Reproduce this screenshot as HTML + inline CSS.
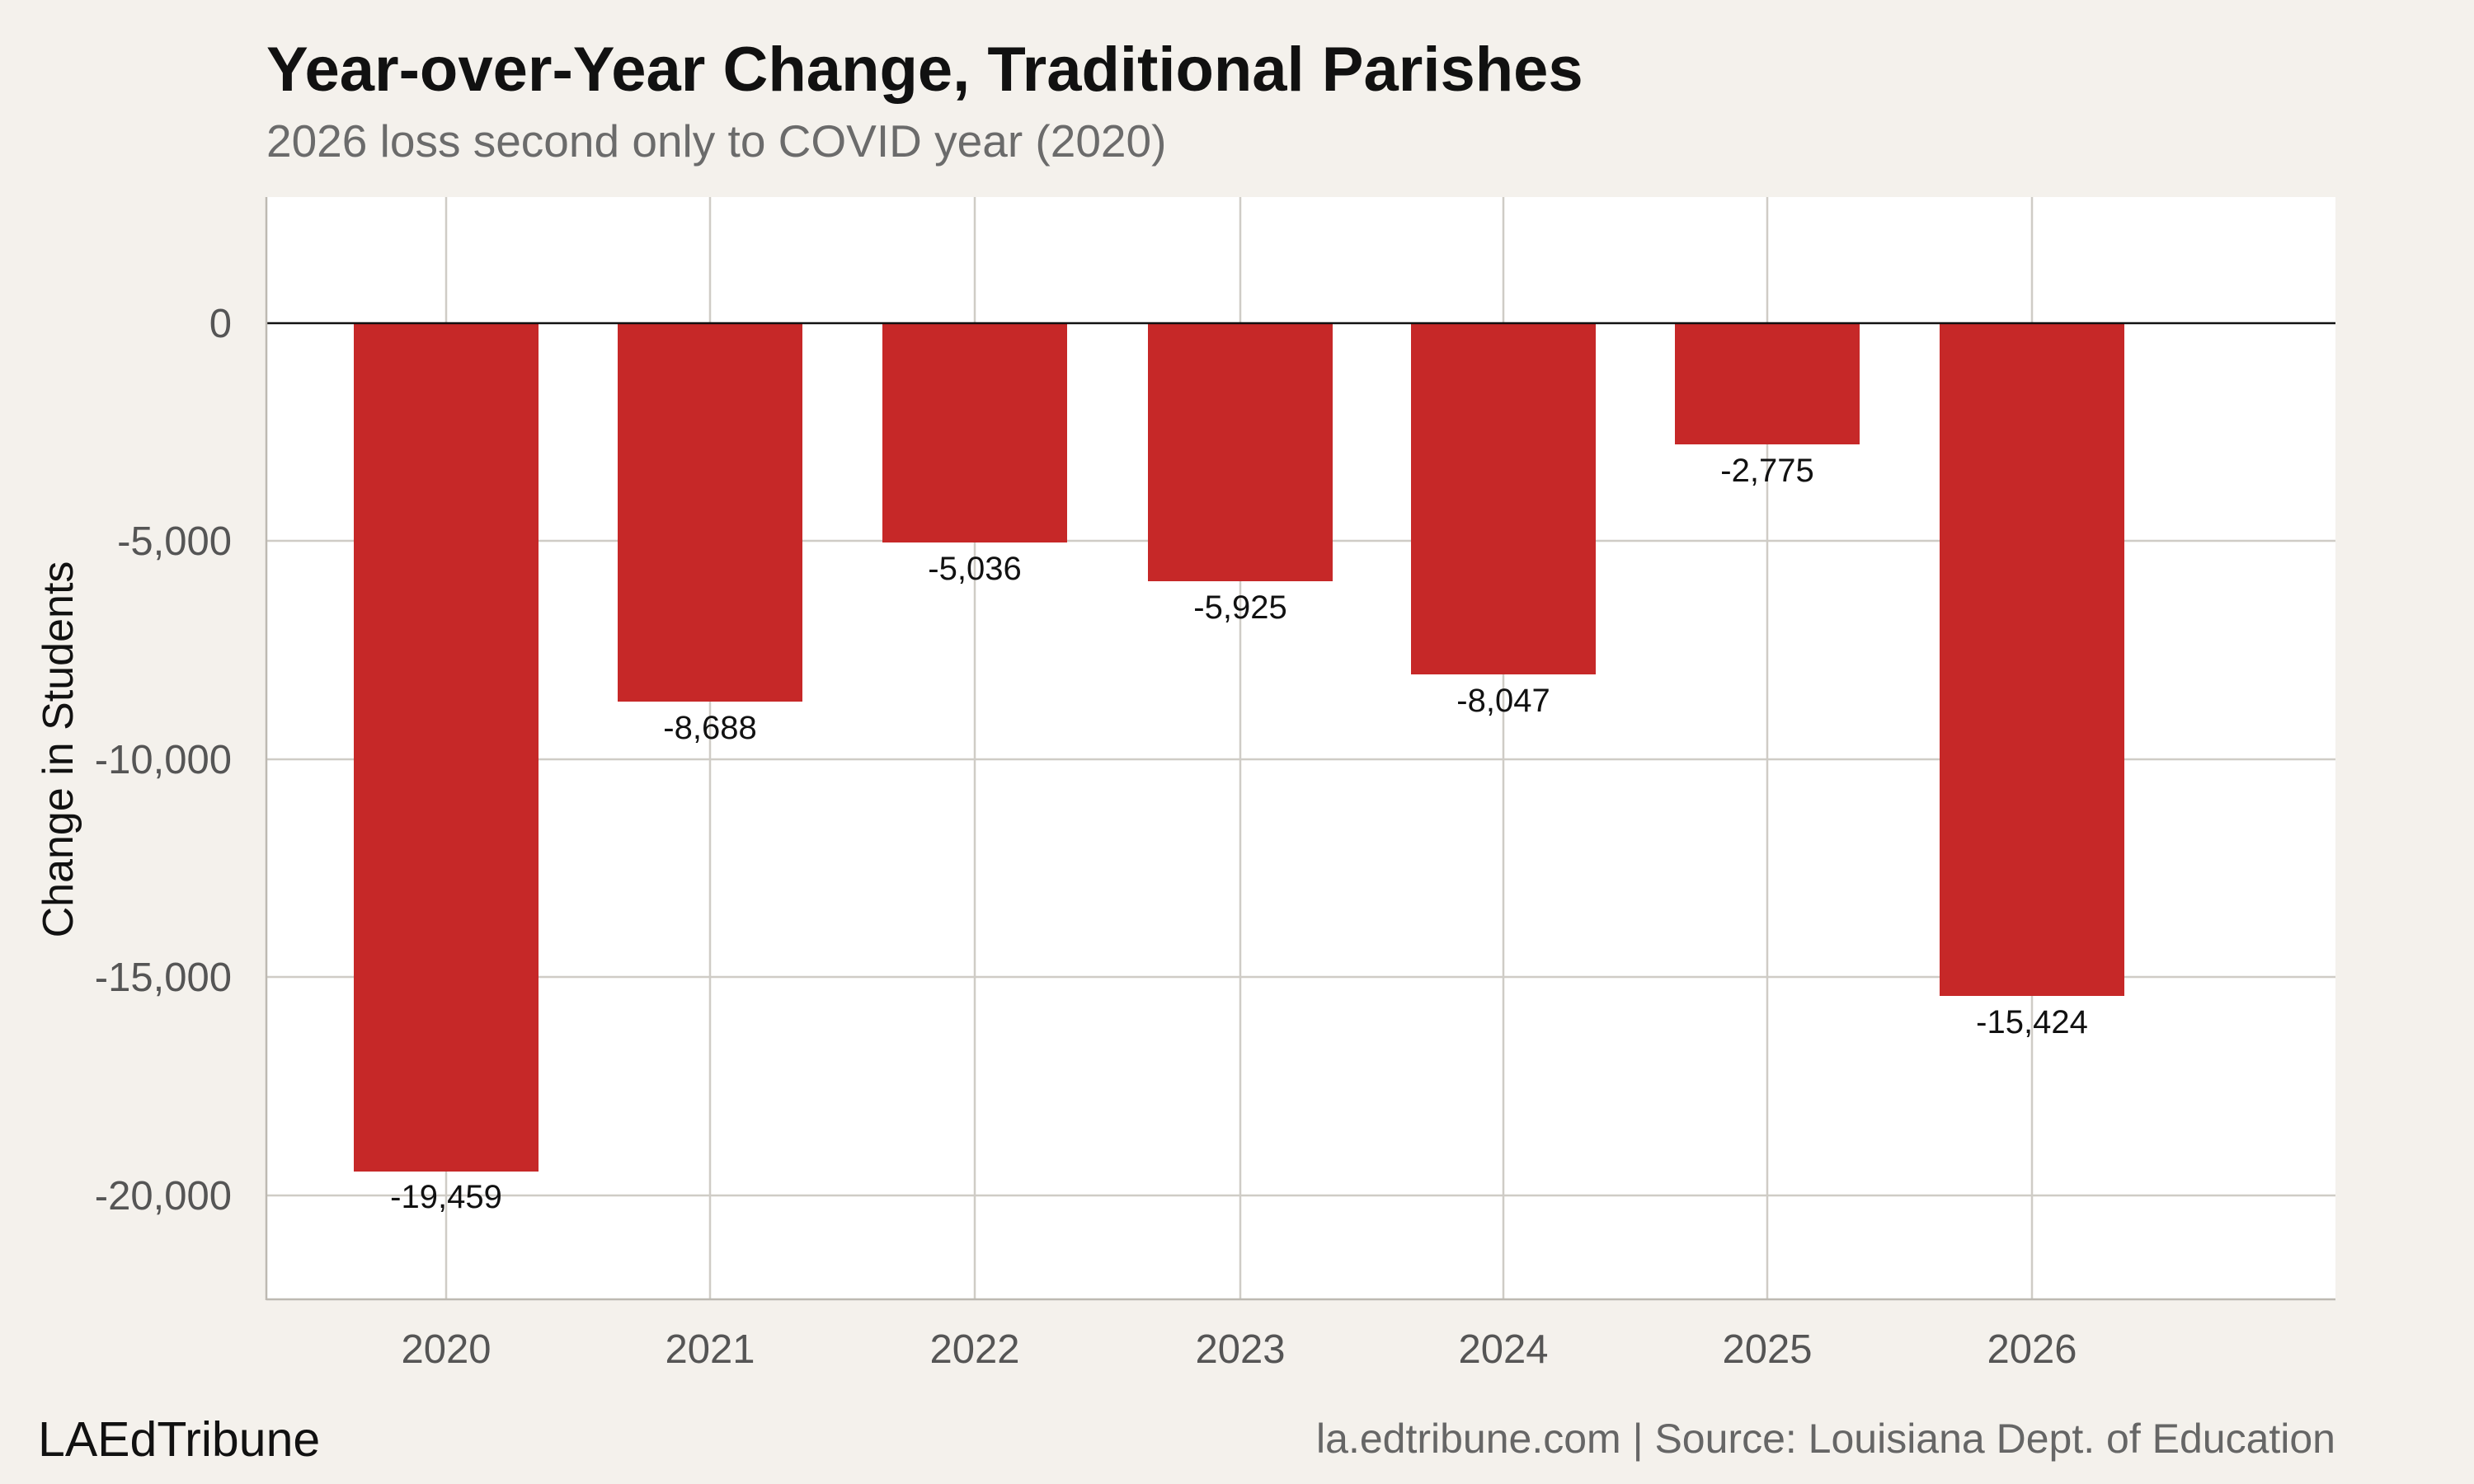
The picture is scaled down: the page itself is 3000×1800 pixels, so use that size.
<!DOCTYPE html>
<html><head><meta charset="utf-8"><style>
html,body{margin:0;padding:0;background:#f4f1ec;}
svg{display:block;font-family:"Liberation Sans",sans-serif;}
</style></head><body>
<svg width="3000" height="1800" viewBox="0 0 3000 1800" xmlns="http://www.w3.org/2000/svg">
<rect width="3000" height="1800" fill="#f4f1ec"/>
<text x="323" y="110" font-size="76" font-weight="bold" fill="#111">Year-over-Year Change, Traditional Parishes</text>
<text x="323" y="190" font-size="55" fill="#6b6b6b">2026 loss second only to COVID year (2020)</text>
<rect x="323" y="239" width="2509" height="1336" fill="#ffffff"/>
<g stroke="#cfccc6" stroke-width="2.5">
<line x1="323" x2="2832" y1="656" y2="656"/>
<line x1="323" x2="2832" y1="921" y2="921"/>
<line x1="323" x2="2832" y1="1185" y2="1185"/>
<line x1="323" x2="2832" y1="1450" y2="1450"/>
<line x1="541" x2="541" y1="239" y2="1575"/>
<line x1="861" x2="861" y1="239" y2="1575"/>
<line x1="1182" x2="1182" y1="239" y2="1575"/>
<line x1="1504" x2="1504" y1="239" y2="1575"/>
<line x1="1823" x2="1823" y1="239" y2="1575"/>
<line x1="2143" x2="2143" y1="239" y2="1575"/>
<line x1="2464" x2="2464" y1="239" y2="1575"/>
</g>
<g fill="#c62828">
<rect x="429" y="392" width="224" height="1029"/>
<rect x="749" y="392" width="224" height="459"/>
<rect x="1070" y="392" width="224" height="266"/>
<rect x="1392" y="392" width="224" height="313"/>
<rect x="1711" y="392" width="224" height="426"/>
<rect x="2031" y="392" width="224" height="147"/>
<rect x="2352" y="392" width="224" height="816"/>
</g>
<line x1="323" x2="2832" y1="392" y2="392" stroke="#111" stroke-width="2.5"/>
<line x1="323" x2="323" y1="239" y2="1577" stroke="#bdb9b2" stroke-width="2.5"/>
<line x1="323" x2="2832" y1="1576" y2="1576" stroke="#bdb9b2" stroke-width="2.5"/>
<g font-size="40" fill="#111" text-anchor="middle">
<text x="541" y="1465">-19,459</text>
<text x="861" y="896">-8,688</text>
<text x="1182" y="703">-5,036</text>
<text x="1504" y="750">-5,925</text>
<text x="1823" y="863">-8,047</text>
<text x="2143" y="584">-2,775</text>
<text x="2464" y="1253">-15,424</text>
</g>
<g font-size="49" fill="#555" text-anchor="end">
<text x="281" y="409">0</text>
<text x="281" y="673">-5,000</text>
<text x="281" y="938">-10,000</text>
<text x="281" y="1202">-15,000</text>
<text x="281" y="1467">-20,000</text>
</g>
<g font-size="49" fill="#555" text-anchor="middle">
<text x="541" y="1653">2020</text>
<text x="861" y="1653">2021</text>
<text x="1182" y="1653">2022</text>
<text x="1504" y="1653">2023</text>
<text x="1823" y="1653">2024</text>
<text x="2143" y="1653">2025</text>
<text x="2464" y="1653">2026</text>
</g>
<text transform="translate(88,909) rotate(-90)" font-size="52" fill="#111" text-anchor="middle">Change in Students</text>
<text x="46" y="1766" font-size="59" fill="#111">LAEdTribune</text>
<text x="2832" y="1762" font-size="50" fill="#666" text-anchor="end">la.edtribune.com | Source: Louisiana Dept. of Education</text>
</svg>
</body></html>
